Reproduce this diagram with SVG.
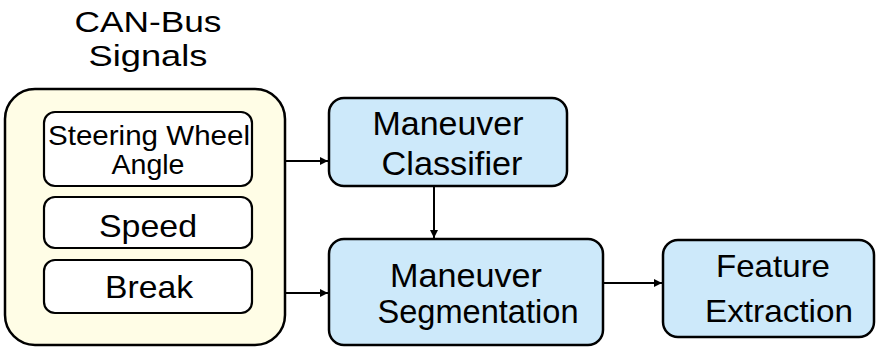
<svg xmlns="http://www.w3.org/2000/svg" width="876" height="347" viewBox="0 0 876 347">
<defs>
<style>
.t{font-family:"Liberation Sans",Arial,sans-serif;fill:#000;text-anchor:middle}
.outer{fill:#FFFDE6;stroke:#000;stroke-width:2.5}
.inner{fill:#fff;stroke:#000;stroke-width:2.2}
.blue{fill:#CDE9FA;stroke:#000;stroke-width:2.5}
.c{stroke:#000;stroke-width:2;fill:none}
</style>
<marker id="ah" viewBox="0 0 10 10" refX="10" refY="5" markerWidth="8" markerHeight="8" markerUnits="userSpaceOnUse" orient="auto">
<path d="M0,0 L10,5 L0,10 z" fill="#000"/>
</marker>
</defs>
<rect width="876" height="347" fill="#fff"/>
<g id="canbus">
<text class="t" x="148" y="32" font-size="30" textLength="147" lengthAdjust="spacingAndGlyphs">CAN-Bus</text>
<text class="t" x="148" y="66" font-size="30" textLength="119" lengthAdjust="spacingAndGlyphs">Signals</text>
<rect class="outer" x="5" y="89" width="280" height="256" rx="30" ry="30"/>
</g>
<g id="steering">
<rect class="inner" x="44" y="112" width="208" height="74" rx="11" ry="11"/>
<text class="t" x="149" y="145" font-size="28" textLength="202" lengthAdjust="spacingAndGlyphs">Steering Wheel</text>
<text class="t" x="148" y="174" font-size="28" textLength="73" lengthAdjust="spacingAndGlyphs">Angle</text>
</g>
<g id="speed">
<rect class="inner" x="44" y="197" width="208" height="51" rx="11" ry="11"/>
<text class="t" x="148" y="237" font-size="32" textLength="98" lengthAdjust="spacingAndGlyphs">Speed</text>
</g>
<g id="break">
<rect class="inner" x="44" y="260" width="208" height="53" rx="11" ry="11"/>
<text class="t" x="149" y="298" font-size="32" textLength="88" lengthAdjust="spacingAndGlyphs">Break</text>
</g>
<g id="classifier">
<rect class="blue" x="329" y="98" width="238" height="88" rx="15" ry="15"/>
<text class="t" x="448" y="135" font-size="33" textLength="151" lengthAdjust="spacingAndGlyphs">Maneuver</text>
<text class="t" x="452" y="175" font-size="33" textLength="141" lengthAdjust="spacingAndGlyphs">Classifier</text>
</g>
<g id="segmentation">
<rect class="blue" x="329" y="239" width="274" height="106" rx="15" ry="15"/>
<text class="t" x="466" y="287" font-size="33" textLength="152" lengthAdjust="spacingAndGlyphs">Maneuver</text>
<text class="t" x="478" y="323" font-size="33" textLength="201" lengthAdjust="spacingAndGlyphs">Segmentation</text>
</g>
<g id="feature">
<rect class="blue" x="663" y="240" width="211" height="97" rx="15" ry="15"/>
<text class="t" x="773" y="277" font-size="32" textLength="114" lengthAdjust="spacingAndGlyphs">Feature</text>
<text class="t" x="779" y="322" font-size="32" textLength="148" lengthAdjust="spacingAndGlyphs">Extraction</text>
</g>
<g id="connectors">
<line class="c" x1="286" y1="161" x2="328" y2="161" marker-end="url(#ah)"/>
<line class="c" x1="286" y1="293" x2="328" y2="293" marker-end="url(#ah)"/>
<line class="c" x1="434" y1="187" x2="434" y2="238" marker-end="url(#ah)"/>
<line class="c" x1="604" y1="283" x2="662" y2="283" marker-end="url(#ah)"/>
</g>
</svg>
